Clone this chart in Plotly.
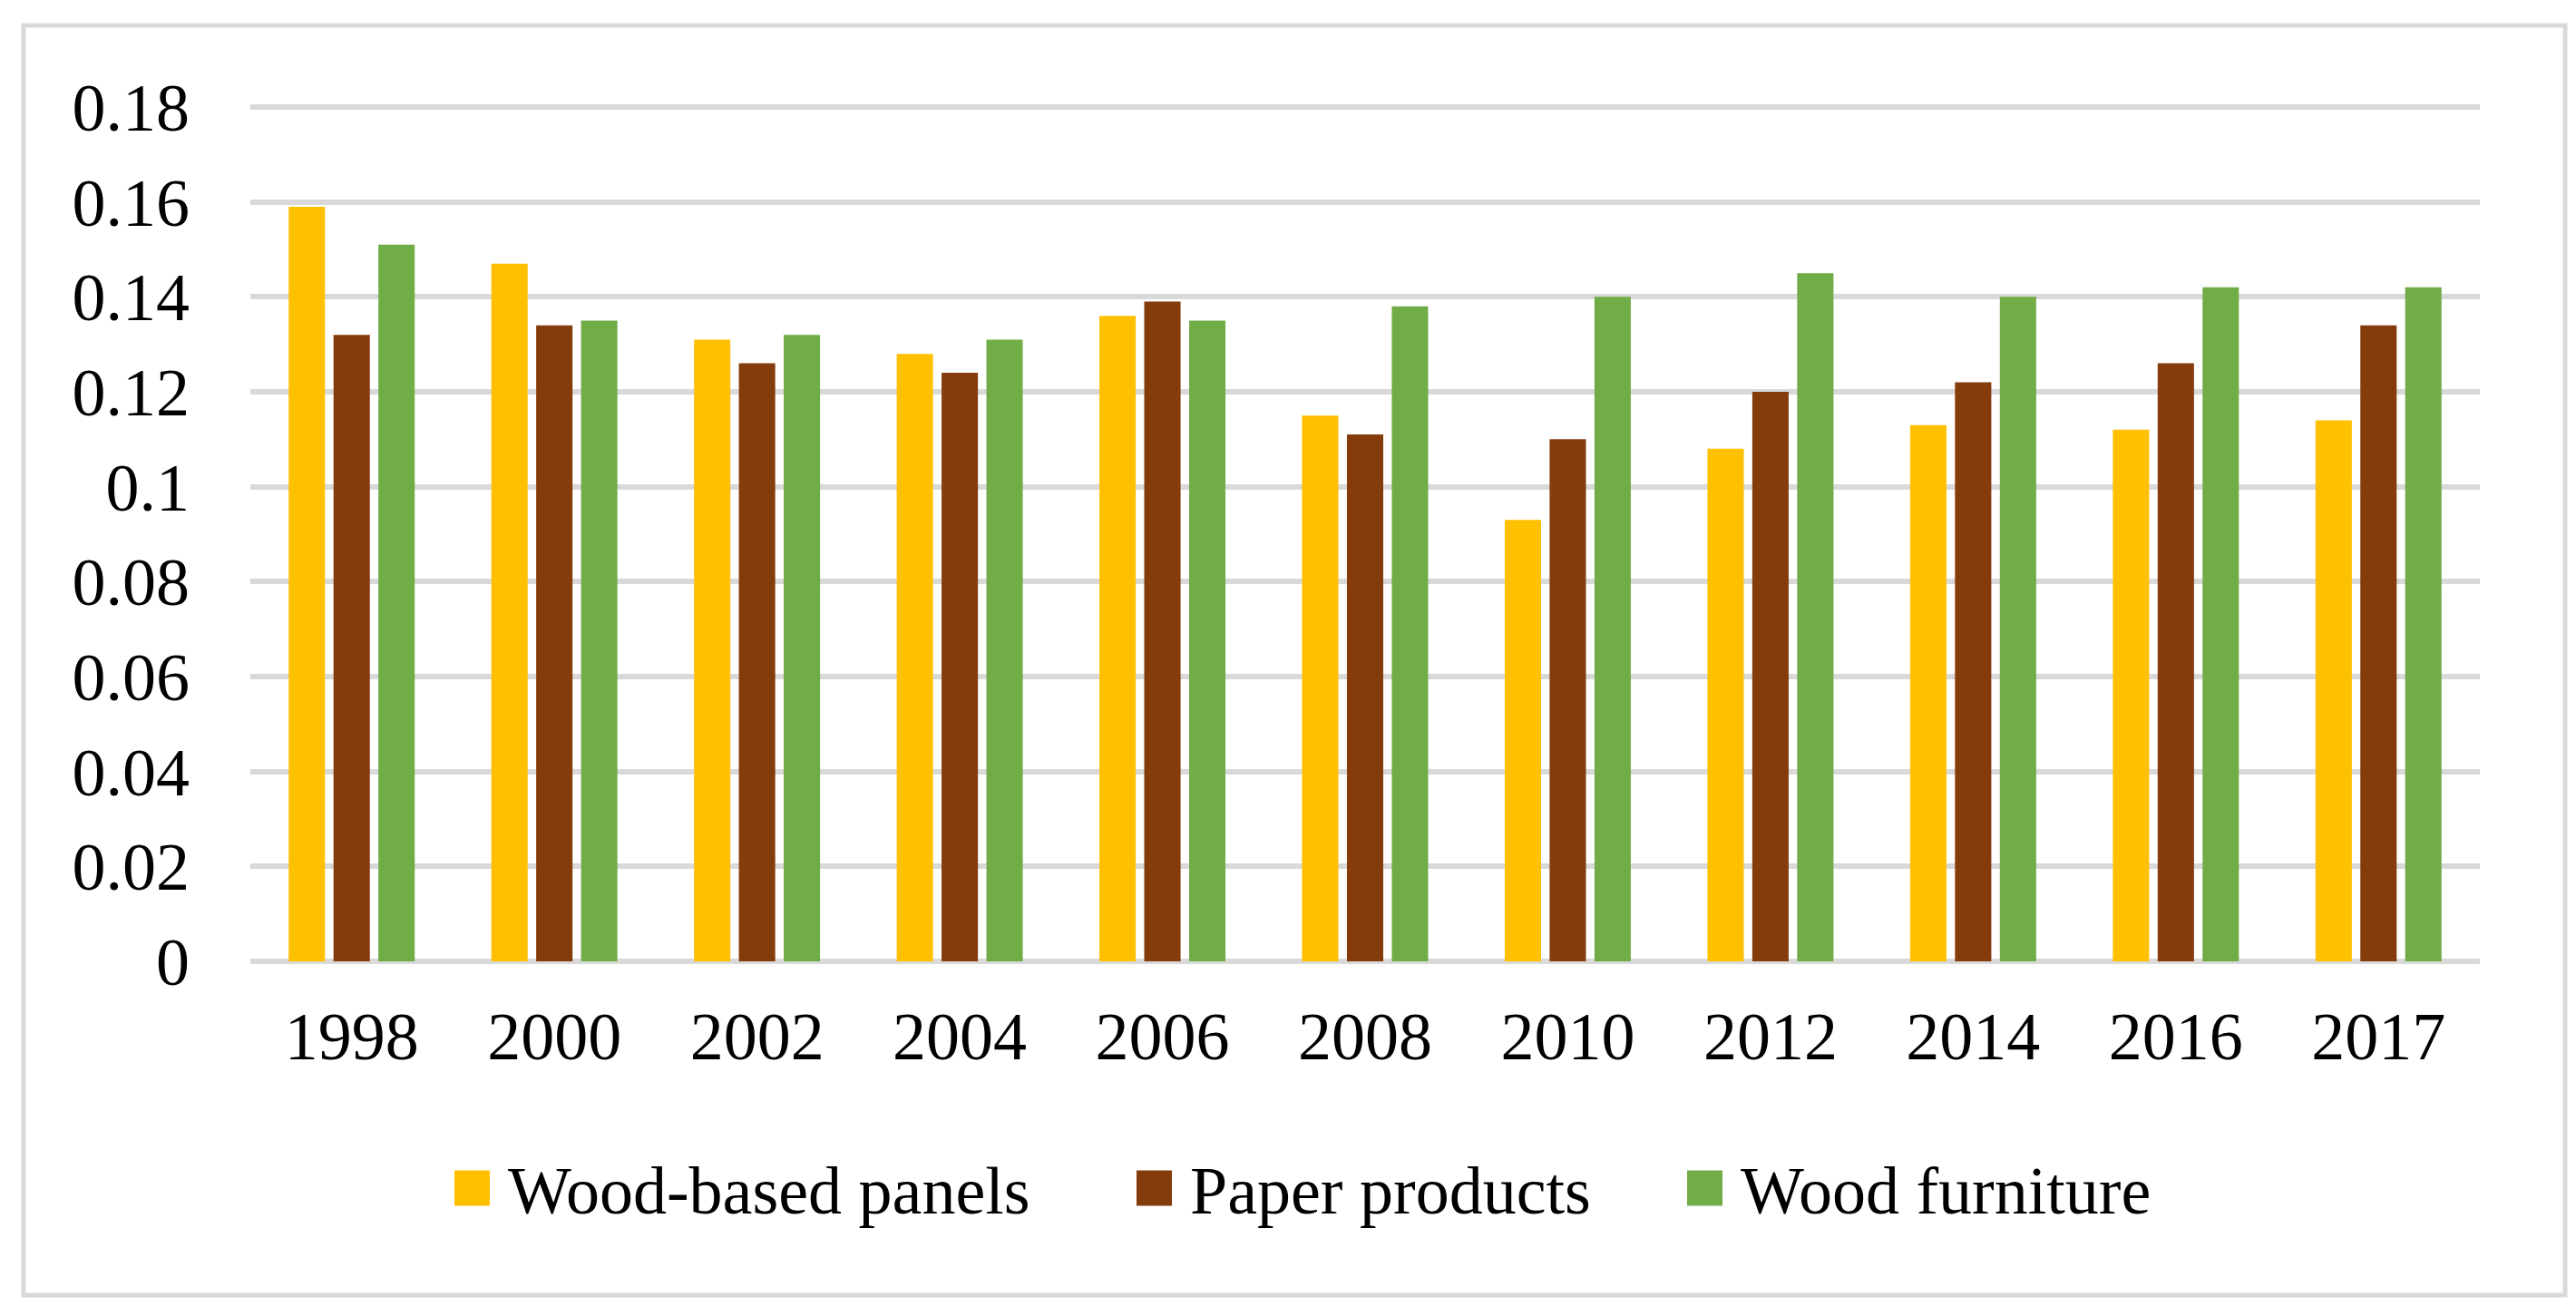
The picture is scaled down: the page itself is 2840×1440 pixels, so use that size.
import plotly.graph_objects as go

years = ["1998", "2000", "2002", "2004", "2006", "2008", "2010", "2012", "2014", "2016", "2017"]
wood_panels = [0.159, 0.147, 0.131, 0.128, 0.136, 0.115, 0.093, 0.108, 0.113, 0.112, 0.114]
paper_products = [0.132, 0.134, 0.126, 0.124, 0.139, 0.111, 0.110, 0.120, 0.122, 0.126, 0.134]
wood_furniture = [0.151, 0.135, 0.132, 0.131, 0.135, 0.138, 0.140, 0.145, 0.140, 0.142, 0.142]

series_names = ["Wood-based panels", "Paper products", "Wood furniture"]
series_colors = ["#FFC000", "#843C0C", "#70AD47"]

y_tickvals = [0, 0.02, 0.04, 0.06, 0.08, 0.10, 0.12, 0.14, 0.16, 0.18]
y_ticktext = ["0", "0.02", "0.04", "0.06", "0.08", "0.1", "0.12", "0.14", "0.16", "0.18"]

W, H = 2840, 1440
FONT = "Liberation Serif, Times New Roman, serif"
FS = 74

# plot area: y=0 at pixel 1052, y=0.18 at pixel 110, x from 268 to 2726
Y0_PX, Y18_PX, PAD = 1052, 110, 3
ML, MR = 268, W - 2726
MT, MB = Y18_PX - PAD, H - Y0_PX - PAD
scale = (Y0_PX - Y18_PX) / 0.18
y_range = [-PAD / scale, 0.18 + PAD / scale]

fig = go.Figure()
for name, vals, col in zip(series_names, [wood_panels, paper_products, wood_furniture], series_colors):
    fig.add_trace(go.Bar(x=years, y=vals, name=name, showlegend=False,
                         marker=dict(color=col, line=dict(width=0))))

pw, ph = W - ML - MR, H - MT - MB
def px_x(p):
    return (p - ML) / pw
def px_y(p):
    return (H - MB - p) / ph

# outer border
fig.add_shape(type="rect", xref="paper", yref="paper",
              x0=px_x(18), x1=px_x(2820), y0=px_y(1420), y1=px_y(20),
              line=dict(color="#d9d9d9", width=5), fillcolor="rgba(0,0,0,0)", layer="below")

# legend (large square swatches like the original)
legend_marker_left = [493, 1245, 1852]
SW = 39
LEG_CY = 1302
for name, col, lx in zip(series_names, series_colors, legend_marker_left):
    fig.add_shape(type="rect", xref="paper", yref="paper",
                  x0=px_x(lx), x1=px_x(lx + SW), y0=px_y(LEG_CY + SW / 2), y1=px_y(LEG_CY - SW / 2),
                  line=dict(width=0), fillcolor=col)
    fig.add_annotation(xref="paper", yref="paper", x=px_x(lx + SW + 18), y=px_y(LEG_CY + 3),
                       xanchor="left", yanchor="middle", showarrow=False, text=name,
                       font=dict(family=FONT, size=FS, color="black"))

fig.update_layout(
    width=W, height=H,
    margin=dict(l=ML, r=MR, t=MT, b=MB),
    paper_bgcolor="white", plot_bgcolor="white",
    barmode="group", bargap=0.336, bargroupgap=0.19,
    font=dict(family=FONT, size=FS, color="black"),
    showlegend=False,
    xaxis=dict(type="category", showgrid=False, zeroline=False, showline=False,
               ticks="", ticklabelstandoff=30,
               tickfont=dict(family=FONT, size=FS, color="black")),
    yaxis=dict(range=y_range, tickvals=y_tickvals, ticktext=y_ticktext,
               showgrid=True, gridcolor="#d9d9d9", gridwidth=6,
               zeroline=False, showline=False, ticks="", ticklabelstandoff=66,
               tickfont=dict(family=FONT, size=FS, color="black")),
)

fig.write_html("out.html")
